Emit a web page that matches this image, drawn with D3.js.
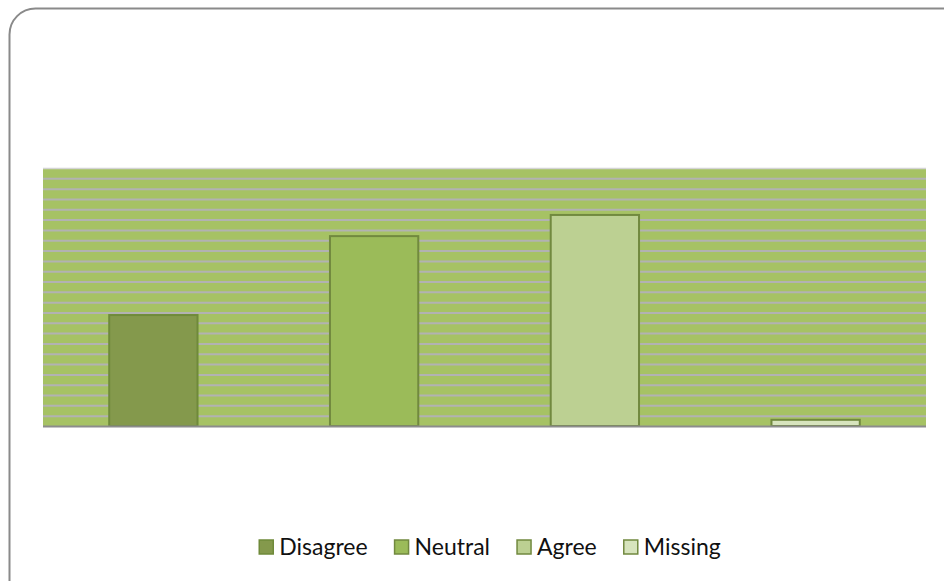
<!DOCTYPE html>
<html>
<head>
<meta charset="utf-8">
<script src="https://cdn.jsdelivr.net/npm/d3@7"></script>
<style>
  body { margin: 0; background: white; }
  svg { display: block; font-family: Lato, "Open Sans", sans-serif; }
</style>
</head>
<body>
<div class="chart"></div>
<script>
const width = 944;
const height = 581;

// data
const categories = ['Disagree', 'Neutral', 'Agree', 'Missing'];
const values = [10.75, 18.4, 20.45, 0.6];
const fills = ['#84994c', '#9bbb59', '#bcd092', '#d7e4bd'];
const strokes = ['#6f8a3a', '#71893f', '#71893f', '#71893f'];
const yMax = 25;

const plot = { left: 43, right: 926, top: 168, bottom: 426 };

const svg = d3.select('div.chart').append('svg')
  .attr('width', width)
  .attr('height', height);

// rounded frame, runs off the bottom/right edges
svg.append('rect')
  .attr('x', 9.5)
  .attr('y', 8.5)
  .attr('width', 960)
  .attr('height', 600)
  .attr('rx', 26)
  .attr('fill', 'white')
  .attr('stroke', '#8a8a8a')
  .attr('stroke-width', 2);

const scaleX = d3.scaleBand()
  .domain(categories)
  .range([plot.left, plot.right])
  .paddingInner(0.6)
  .paddingOuter(0.3);

const scaleY = d3.scaleLinear()
  .domain([0, yMax])
  .range([plot.bottom, plot.top]);

// plot area background
svg.append('rect')
  .attr('x', plot.left)
  .attr('y', plot.top)
  .attr('width', plot.right - plot.left)
  .attr('height', plot.bottom - plot.top)
  .attr('fill', '#a6c264');

// horizontal grid lines
const grid = svg.append('g')
  .attr('transform', `translate(${plot.left}, 0)`)
  .call(d3.axisLeft(scaleY)
    .tickValues(d3.range(1, yMax + 1))
    .tickSize(-(plot.right - plot.left))
    .tickFormat(''));
grid.select('.domain').remove();
grid.selectAll('.tick line')
  .attr('stroke', '#b2b2b2')
  .attr('stroke-width', 2);
grid.selectAll('.tick')
  .filter(d => d === yMax)
  .select('line')
  .attr('stroke', '#d4d4d4')
  .attr('stroke-width', 1.5);

// bars
svg.append('g')
  .selectAll('rect')
  .data(values)
  .enter()
  .append('rect')
  .attr('x', (d, i) => scaleX(categories[i]))
  .attr('y', d => scaleY(d))
  .attr('width', scaleX.bandwidth())
  .attr('height', d => scaleY(0) - scaleY(d))
  .attr('fill', (d, i) => fills[i])
  .attr('stroke', (d, i) => strokes[i])
  .attr('stroke-width', 2);

// baseline
svg.append('line')
  .attr('x1', plot.left)
  .attr('x2', plot.right)
  .attr('y1', scaleY(0) + 0.5)
  .attr('y2', scaleY(0) + 0.5)
  .attr('stroke', '#8c8c8c')
  .attr('stroke-width', 2);

// legend
const legend = svg.append('g');
const items = legend.selectAll('g')
  .data(categories)
  .enter()
  .append('g');

items.append('rect')
  .attr('width', 14)
  .attr('height', 14)
  .attr('y', -15)
  .attr('fill', (d, i) => fills[i])
  .attr('stroke', (d, i) => strokes[i])
  .attr('stroke-width', 1.5);

items.append('text')
  .attr('x', 20)
  .attr('y', 0)
  .attr('font-size', 23)
  .attr('fill', '#111')
  .text(d => d);

// lay the items out side by side and center them
let cursor = 0;
const gap = 27;
items.each(function () {
  const w = this.getBBox().width;
  d3.select(this).attr('transform', `translate(${cursor}, 0)`);
  cursor += w + gap;
});
const total = cursor - gap;
legend.attr('transform', `translate(${490 - total / 2}, 555)`);
</script>
</body>
</html>
